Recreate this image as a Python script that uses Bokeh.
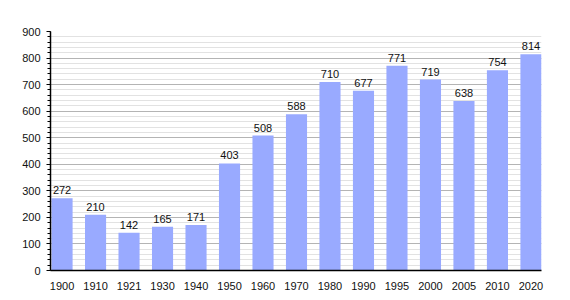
from bokeh.plotting import figure
from bokeh.models import ColumnDataSource, FixedTicker, Range1d
from bokeh.core.properties import value
from bokeh.embed import file_html
from bokeh.resources import INLINE

years = ["1900", "1910", "1921", "1930", "1940", "1950", "1960", "1970", "1980",
         "1990", "1995", "2000", "2005", "2010", "2020"]
population = [272, 210, 142, 165, 171, 403, 508, 588, 710, 677, 771, 719, 638, 754, 814]
y_ticks = [0, 100, 200, 300, 400, 500, 600, 700, 800, 900]

idx = list(range(len(years)))
src = ColumnDataSource(dict(x=idx, top=population, label=[str(v) for v in population]))

p = figure(width=570, height=300, output_backend="svg", toolbar_location=None,
           x_range=Range1d(-0.345, len(years) - 1 + 0.315), y_range=Range1d(0, 900),
           min_border_left=50, min_border_right=29, min_border_top=31, min_border_bottom=30)
p.outline_line_color = None
p.background_fill_color = "white"

p.vbar(x="x", top="top", width=0.63, source=src, fill_color="#99aaff", line_color=None)
p.text(x="x", y="top", text="label", source=src, text_align="center", text_baseline="bottom",
       y_offset=-4, text_font=value("Liberation Sans"), text_font_size="11px", text_color="#111111")

# y axis
p.yaxis.ticker = FixedTicker(ticks=y_ticks, minor_ticks=list(range(0, 901, 20)))
p.yaxis.axis_line_color = "black"
p.yaxis.axis_line_width = 1.5
p.yaxis.major_tick_out = 4
p.yaxis.major_tick_in = 0
p.yaxis.minor_tick_out = 3
p.yaxis.minor_tick_in = 0
p.yaxis.major_tick_line_color = "black"
p.yaxis.minor_tick_line_color = "black"
p.yaxis.major_label_text_font = "Liberation Sans"
p.yaxis.major_label_text_font_size = "11px"
p.yaxis.major_label_text_color = "#111111"
p.yaxis.major_label_standoff = 6

# x axis
p.xaxis.ticker = FixedTicker(ticks=idx)
p.xaxis.major_label_overrides = {i: y for i, y in zip(idx, years)}
p.xaxis.axis_line_color = "black"
p.xaxis.axis_line_width = 1.5
p.xaxis.major_tick_line_color = None
p.xaxis.minor_tick_line_color = None
p.xaxis.major_label_text_font = "Liberation Sans"
p.xaxis.major_label_text_font_size = "11px"
p.xaxis.major_label_text_color = "#111111"
p.xaxis.major_label_standoff = 5

p.xgrid.grid_line_color = None
p.ygrid.grid_line_color = "#b4b4b4"
p.ygrid.grid_line_width = 1
p.ygrid.minor_grid_line_color = "#e2e2e2"
p.ygrid.minor_grid_line_width = 1
p.ygrid.level = "underlay"

open("out.html", "w").write(file_html(p, INLINE))
